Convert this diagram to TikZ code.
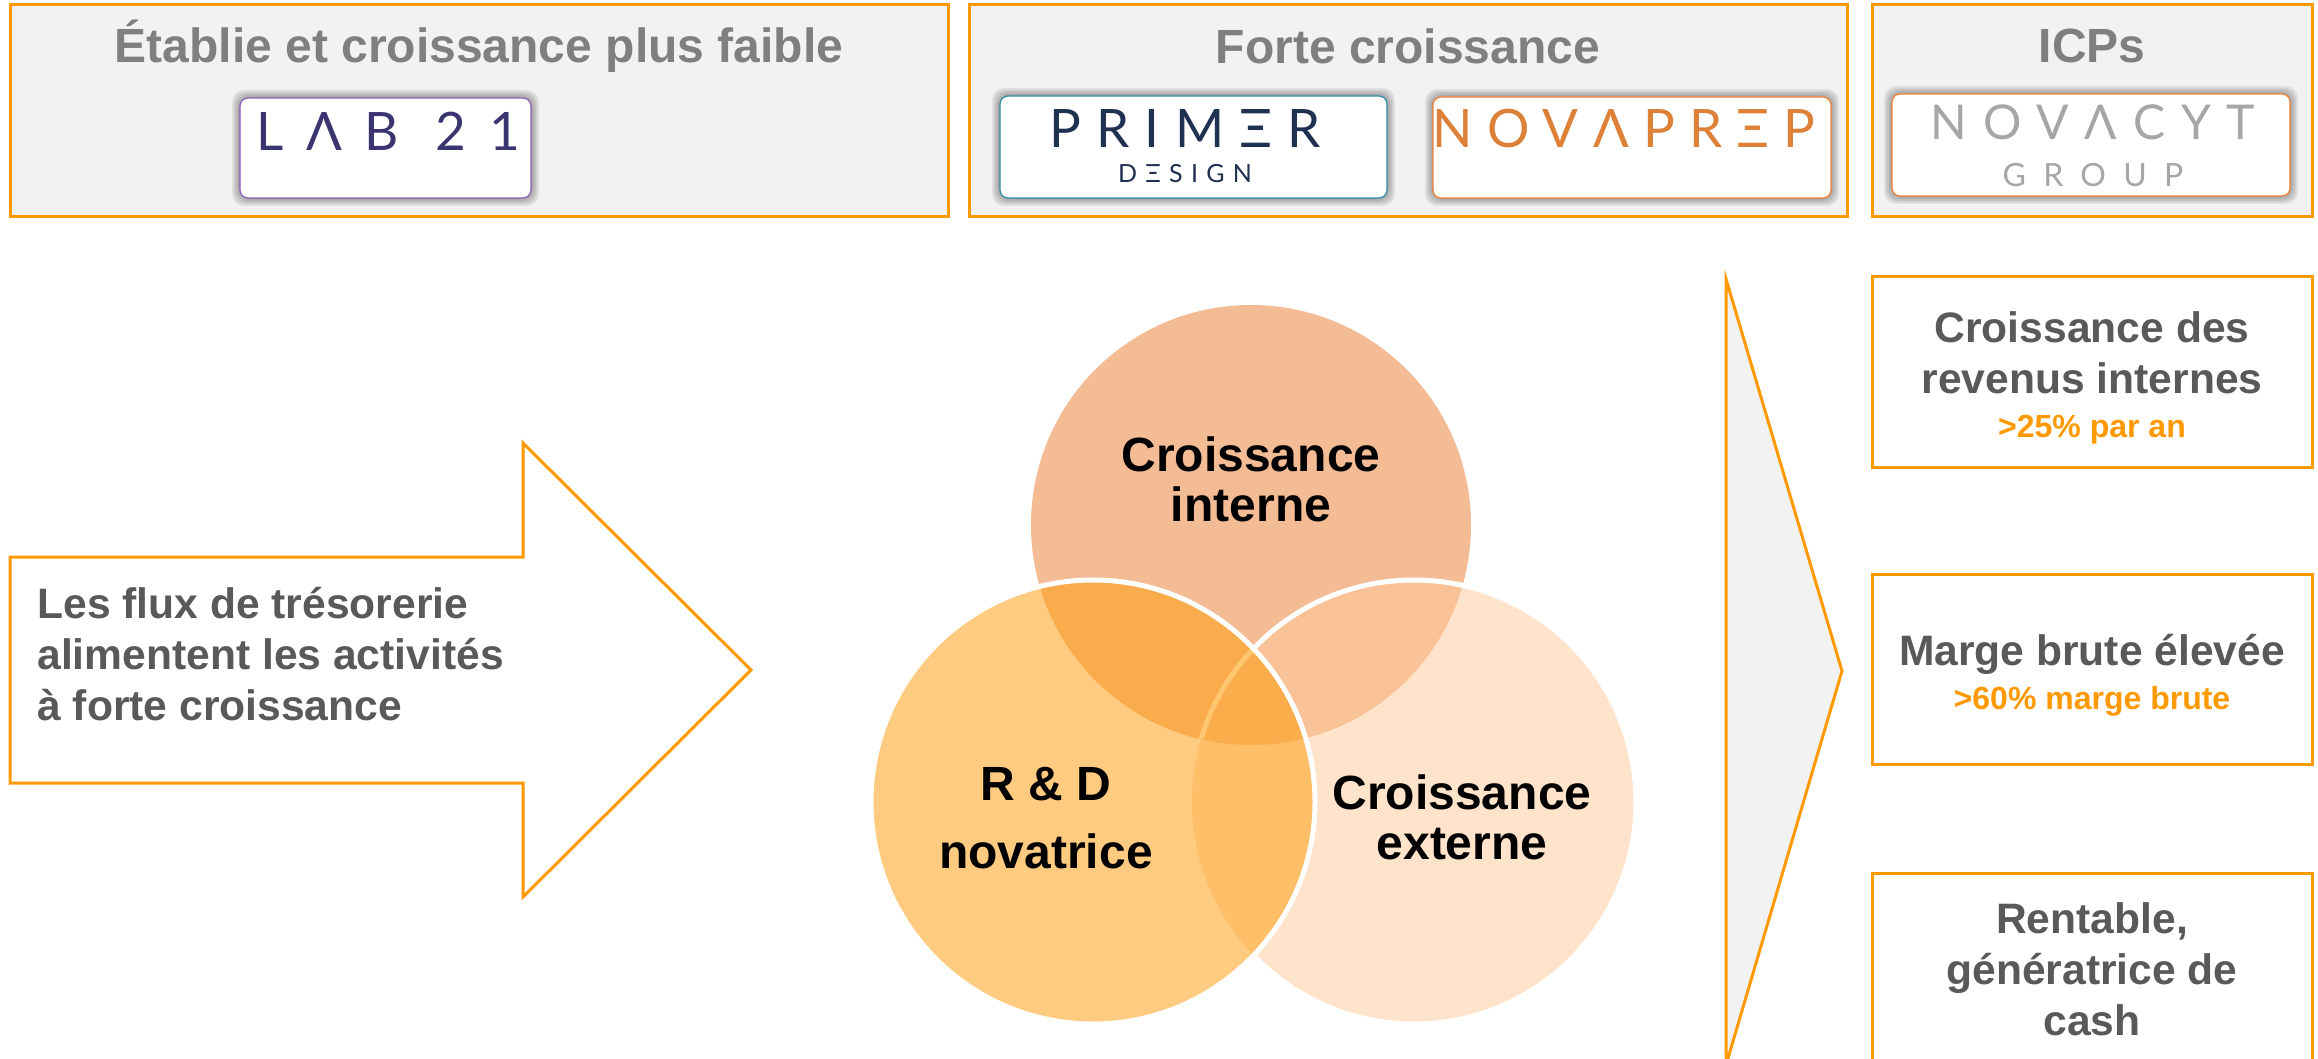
\documentclass[tikz,border=0pt]{standalone}
\usepackage{fontspec}
\setmainfont{Liberation Sans}
\newfontfamily\logofont{Lato}
\newcommand{\spaced}[1]{\logofont\addfontfeature{LetterSpace=#1}}
\usetikzlibrary{calc}
\definecolor{org}{HTML}{FF9900}
\definecolor{panel}{HTML}{F2F2F2}
\definecolor{headgrey}{HTML}{7F7F7F}
\definecolor{bodygrey}{HTML}{595959}
\definecolor{cTop}{HTML}{F4BC94}
\definecolor{cExt}{HTML}{FFE3CB}
\definecolor{cRd}{HTML}{FFCB80}
\definecolor{cTE}{HTML}{F9C297}
\definecolor{cTR}{HTML}{FAAB4B}
\definecolor{cER}{HTML}{FFBE68}
\definecolor{cTER}{HTML}{FBAC4B}
\definecolor{cLine}{HTML}{FFC670}
\definecolor{labcol}{HTML}{3A3570}
\definecolor{primcol}{HTML}{1F3050}
\definecolor{novacol}{HTML}{DD8038}
\definecolor{cytcol}{HTML}{A6A6A6}
\definecolor{bLab}{HTML}{8A5CB8}
\definecolor{bPrim}{HTML}{2E8BA8}
\definecolor{bNova}{HTML}{F08030}
\tikzset{
  panelbox/.style={draw=org,line width=1.5pt,fill=panel,inner sep=0pt,rectangle},
  kpibox/.style={draw=org,line width=1.5pt,fill=white,inner sep=0pt,rectangle},
  head/.style={text=headgrey,font=\fontsize{24}{28}\selectfont\bfseries,inner sep=0pt},
  kpi/.style={text=bodygrey,font=\fontsize{21.3}{25.5}\selectfont\bfseries,align=center,inner sep=0pt},
  venn/.style={text=black,font=\fontsize{24}{25}\selectfont\bfseries,align=center,inner sep=0pt},
  logobox/.style={fill=white,rounded corners=4pt,line width=0.6pt},
  logotext/.style={inner sep=0pt},
  veil/.style={fill=black,fill opacity=0.07,draw=none,rounded corners=6pt},
}
\newcommand{\orgsub}[1]{{\color{org}\fontsize{16}{18}\selectfont #1}}
\newcommand{\shadowed}[5]{%
  \foreach \g in {1,2,...,5}{\fill[veil] ($(#1,#2)+(-\g*1.6,-\g*1.6)$) rectangle ($(#3,#4)+(\g*1.6,\g*1.6)$);}
  \draw[logobox,draw=#5] (#1,#2) rectangle (#3,#4);}
\begin{document}
\begin{tikzpicture}[x=0.5pt,y=-0.5pt]
\clip (0,0) rectangle (2318,1059);
\fill[white] (0,0) rectangle (2318,1059);
% top panels
\node[panelbox,minimum width=469pt,minimum height=106pt] (p1) at (479,111) {};
\node[panelbox,minimum width=439pt,minimum height=106pt] (p2) at (1408,111) {};
\node[panelbox,minimum width=220pt,minimum height=106pt] (p3) at (2092,111) {};
\node[head] (h1) at (479,46) {Établie et croissance plus faible};
\node[head] (h2) at (1408,46) {Forte croissance};
\node[head] (h3) at (2092,46) {ICPs};
% logos
\shadowed{240}{98}{531}{198}{bLab}
\shadowed{1000}{96}{1387}{198}{bPrim}
\shadowed{1433}{97}{1831}{198}{bNova}
\shadowed{1892}{94}{2290}{196}{bNova}
\node[logotext,text=labcol,font=\spaced{43}\fontsize{26.5}{30}\selectfont] (l1) at (388,131) {LΛB 21};
\node[logotext,text=primcol,font=\spaced{29}\fontsize{26.5}{30}\selectfont] (l2) at (1185,129) {PRIMΞR};
\node[logotext,text=primcol,font=\spaced{33}\fontsize{12.5}{14}\selectfont] (l3) at (1185,174) {DΞSIGN};
\node[logotext,text=novacol,font=\spaced{27}\fontsize{26.5}{30}\selectfont] (l4) at (1624,129) {NOVΛPRΞP};
\node[logotext,text=cytcol,font=\spaced{33}\fontsize{24}{28}\selectfont] (l5) at (2093,122) {NOVΛCYT};
\node[logotext,text=cytcol,font=\spaced{54}\fontsize{16}{18}\selectfont] (l6) at (2093,175) {GROUP};
% big arrow
\draw[org,line width=1.5pt,fill=white,line join=miter] (10,557) -- (523,557) -- (523,443) -- (751,670) -- (523,897) -- (523,783) -- (10,783) -- cycle;
\node[kpi,align=left,anchor=west] (flow) at (37,654) {Les flux de trésorerie\\alimentent les activités\\à forte croissance};
% venn
\coordinate (T) at (1251,525);
\coordinate (E) at (1414,802);
\coordinate (R) at (1093,802);
\def\rr{110pt}
\def\rb{111pt}
\fill[cTop] (T) circle (\rr);
\fill[cExt] (E) circle (\rb);
\begin{scope}
  \clip (E) circle (\rb);
  \fill[cTE] (T) circle (\rr);
\end{scope}
\draw[white,line width=2.5pt] (E) circle (\rb);
\fill[cRd] (R) circle (\rb);
\begin{scope}
  \clip (R) circle (\rb);
  \fill[cTR] (T) circle (\rr);
  \fill[cER] (E) circle (\rb);
  \begin{scope}
    \clip (E) circle (\rb);
    \fill[cTER] (T) circle (\rr);
  \end{scope}
  \begin{scope}
    \clip (T) circle (\rr);
    \draw[cLine,line width=2.5pt] (E) circle (\rb);
  \end{scope}
\end{scope}
\draw[white,line width=2.5pt] (R) circle (\rb);
\node[venn] (vt) at (1251,479) {Croissance\\interne};
\node[venn,font=\fontsize{24}{34}\selectfont\bfseries] (vr) at (1046,818) {R \& D\\novatrice};
\node[venn] (ve) at (1462,817) {Croissance\\externe};
% chevron
\draw[org,line width=1.5pt,fill=panel,line join=miter] (1726,279) -- (1842,671) -- (1726,1065) -- cycle;
% KPI boxes
\node[kpibox,minimum width=220pt,minimum height=95pt] (k1) at (2092,372) {};
\node[kpibox,minimum width=220pt,minimum height=95pt] (k2) at (2092,669.5) {};
\node[kpibox,minimum width=220pt,minimum height=95pt] (k3) at (2092,968) {};
\node[kpi] (t1) at (2092,378) {Croissance des\\revenus internes\\[-3.5pt]\orgsub{>25\% par an}};
\node[kpi] (t2) at (2092,675) {Marge brute élevée\\[-3.5pt]\orgsub{>60\% marge brute}};
\node[kpi] (t3) at (2092,969) {Rentable,\\génératrice de\\cash};
\end{tikzpicture}
\end{document}
